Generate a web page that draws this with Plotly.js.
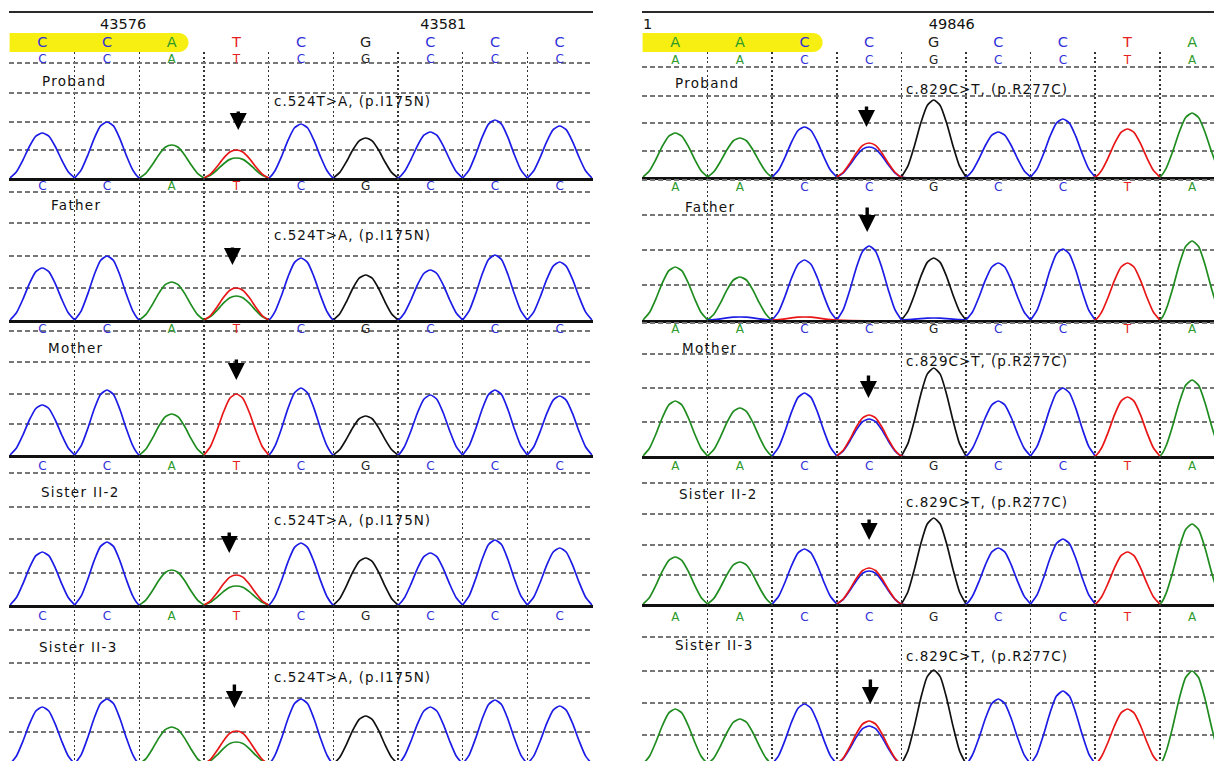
<!DOCTYPE html>
<html><head><meta charset="utf-8">
<script src="https://cdn.plot.ly/plotly-3.0.1.min.js"></script>
<style>html,body{margin:0;padding:0;background:#fff;overflow:hidden}#chart{width:1214px;height:761px}</style>
</head><body><div id="chart"></div>
<script>
// ================= DATA =================
const SAMPLES = ['Proband', 'Father', 'Mother', 'Sister II-2', 'Sister II-3'];

// left panel: exon around c.524
const LEFT_BASES = ['C', 'C', 'A', 'T', 'C', 'G', 'C', 'C', 'C'];
const LEFT_POSITIONS = ['43576', '43581'];
const LEFT_POSITION_AT = [1.25, 6.2];
const LEFT_MUTATION = 'c.524T>A, (p.I175N)';
const LEFT_VARIANT = 3;           // index of the variant base
const LEFT_SECOND_BASE = 'A';     // second signal under the variant
// peak heights per base (signal units), one list per sample
const LEFT_PROBAND = [45, 56, 33, 28, 54, 40, 46, 58, 52];
const LEFT_FATHER  = [52, 64, 38, 32, 62, 45, 50, 65, 58];
const LEFT_MOTHER  = [50, 65, 41, 61, 67, 39, 60, 65, 59];
const LEFT_SIS2    = [53, 63, 35, 30, 62, 47, 52, 65, 57];
const LEFT_SIS3    = [57, 65, 37, 33, 65, 48, 57, 64, 58];
const LEFT_SECOND  = [20, 24, 0, 19, 22];   // A signal at the variant
const LEFT_SHOW_MUT = [true, true, false, true, true];

// right panel: exon around c.829
const RIGHT_BASES = ['A', 'A', 'C', 'C', 'G', 'C', 'C', 'T', 'A'];
const RIGHT_POSITIONS = ['1', '49846'];
const RIGHT_POSITION_AT = [-0.43, 4.28];
const RIGHT_MUTATION = 'c.829C>T, (p.R277C)';
const RIGHT_VARIANT = 3;
const RIGHT_SECOND_BASE = 'T';
const RIGHT_PROBAND = [44, 39, 50, 30, 77, 45, 58, 48, 64];
const RIGHT_FATHER  = [53, 43, 60, 74, 62, 57, 71, 57, 79];
const RIGHT_MOTHER  = [55, 48, 63, 37, 88, 55, 68, 59, 76];
const RIGHT_SIS2    = [47, 42, 55, 33, 86, 56, 65, 52, 80];
const RIGHT_SIS3    = [55, 45, 60, 38, 94, 65, 73, 55, 93];
const RIGHT_SECOND  = [34, 0, 41, 36, 43];  // T signal at the variant
const RIGHT_SHOW_MUT = [true, false, true, true, true];
// small background bumps in the father's trace
const RIGHT_FATHER_MINOR_BASE = ['C', 'T', 'C'];
const RIGHT_FATHER_MINOR_AT = [1, 2, 4];
const RIGHT_FATHER_MINOR_H = [3, 3, 2];

// ================= STYLE / LAYOUT =================
const W = 1214, H = 761;
const TRACE_COLOR = {A: '#1e8c1e', C: '#1c1ce6', G: '#111111', T: '#e81616'};
const LETTER_COLOR = {A: '#2c9a2c', C: '#3030d8', G: '#222222', T: '#e52020'};
const FONT = 'DejaVu Sans, Verdana, sans-serif';
// relative outline of one peak (glyph shape), offsets in base widths
const PEAK_OFFSETS = [-0.5, -0.4, -0.3, -0.2, -0.1, 0, 0.1, 0.2, 0.3, 0.4, 0.5];
const PEAK_SHAPE   = [0, 0.14, 0.4, 0.7, 0.93, 1, 0.93, 0.7, 0.4, 0.14, 0];

const PANELS = [
  {
    bases: LEFT_BASES, rows: [LEFT_PROBAND, LEFT_FATHER, LEFT_MOTHER, LEFT_SIS2, LEFT_SIS3],
    second: LEFT_SECOND, secondBase: LEFT_SECOND_BASE, variant: LEFT_VARIANT,
    mutation: LEFT_MUTATION, showMut: LEFT_SHOW_MUT,
    positions: LEFT_POSITIONS, positionAt: LEFT_POSITION_AT,
    pxLeft: 10, pxPerBase: 582 / 9, pxRight: 592.65, highlightEnd: 2.26,
    rowPx: [[52, 178], [178, 320], [320, 455], [455, 605], [605, 764]],
    grid: [[115, 85, 56, 28], [128, 97, 64, 32], [124, 93, 61, 31], [132, 98, 66, 32], [134, 101, 66, 32]],
    letterY: [118, 133, 125, 138, 147],
    labelX: [-0.03, 0.11, 0.05, -0.05, -0.09], labelY: [97, 115, 107, 113, 117],
    mutX: 3.555, mutY: [77, 85, 0, 85, 87],
    arrows: [[3.03, 48, 19], [2.94, 55, 18], [3.0, 75, 21], [2.89, 52, 21], [2.97, 56, 24]]
  },
  {
    bases: RIGHT_BASES, rows: [RIGHT_PROBAND, RIGHT_FATHER, RIGHT_MOTHER, RIGHT_SIS2, RIGHT_SIS3],
    second: RIGHT_SECOND, secondBase: RIGHT_SECOND_BASE, variant: RIGHT_VARIANT,
    mutation: RIGHT_MUTATION, showMut: RIGHT_SHOW_MUT,
    positions: RIGHT_POSITIONS, positionAt: RIGHT_POSITION_AT,
    pxLeft: 643, pxPerBase: 64.6, pxRight: 1214, highlightEnd: 2.28,
    rowPx: [[52, 177], [177, 320], [320, 456], [456, 604], [604, 764]],
    grid: [[110, 81, 54, 26], [140, 105, 70, 35], [133, 102, 68, 34], [121, 90, 59, 29], [127, 93, 61, 29]],
    letterY: [116, 132, 126, 137, 146],
    labelX: [-0.03, 0.12, 0.08, 0.03, -0.03], labelY: [94, 113, 108, 110, 119],
    mutX: 3.545, mutY: [88, 0, 95, 102, 108],
    arrows: [[2.96, 50, 21], [2.97, 88, 25], [2.99, 58, 23], [3.0, 64, 21], [3.02, 60, 25]]
  }
];

const traces = [];
const layout = {
  width: W, height: H, margin: {l: 0, r: 0, t: 0, b: 0},
  paper_bgcolor: '#ffffff', plot_bgcolor: '#ffffff',
  showlegend: false, hovermode: false,
  annotations: [], shapes: []
};

function domY(top, bot) { return [1 - Math.min(bot, H) / H, 1 - top / H]; }

let axisN = 0;
PANELS.forEach((P, pi) => {
  const x0px = P.pxLeft - 0.01 * P.pxPerBase;
  const xr = [-0.51, -0.5 + (P.pxRight - P.pxLeft) / P.pxPerBase];
  const xdom = [x0px / W, P.pxRight / W];
  const gridX = [];
  for (let i = 0; i <= P.bases.length; i++) gridX.push(i - 0.5);

  // ---------- header (position numbers, highlighted reference bases) ----------
  axisN++;
  const hn = axisN, hx = 'x' + hn, hy = 'y' + hn;
  layout['xaxis' + hn] = {domain: xdom, range: xr, anchor: hy, side: 'top', showline: true,
    linecolor: '#2a2a2a', linewidth: 2, showgrid: false, zeroline: false, showticklabels: false,
    ticks: '', fixedrange: true};
  layout['yaxis' + hn] = {domain: domY(13, 52), range: [0, 39], anchor: hx, showgrid: false,
    zeroline: false, showticklabels: false, showline: false, fixedrange: true};
  const e = P.highlightEnd, rx = 9.5 / P.pxPerBase, ry = 9.5;
  layout.shapes.push({type: 'path', xref: hx, yref: hy, layer: 'below',
    path: `M ${xr[0]},0 L ${e - rx},0 C ${e - rx * 0.45},0 ${e},${ry * 0.45} ${e},${ry} ` +
          `C ${e},${ry * 1.55} ${e - rx * 0.45},${2 * ry} ${e - rx},${2 * ry} L ${xr[0]},${2 * ry} Z`,
    fillcolor: '#f8ef12', line: {width: 0}});
  traces.push({type: 'scatter', mode: 'text', xaxis: hx, yaxis: hy, cliponaxis: false,
    x: P.bases.map((b, i) => i), y: P.bases.map(() => 9), text: P.bases,
    textfont: {family: FONT, size: 14.5, color: P.bases.map(b => LETTER_COLOR[b])}, hoverinfo: 'skip'});
  traces.push({type: 'scatter', mode: 'text', xaxis: hx, yaxis: hy, cliponaxis: false,
    x: P.positionAt, y: P.positionAt.map(() => 27), text: P.positions,
    textfont: {family: FONT, size: 14.5, color: '#111'}, hoverinfo: 'skip'});

  // ---------- sample rows ----------
  P.rows.forEach((heights, ri) => {
    axisN++;
    const n = axisN, xa = 'x' + n, ya = 'y' + n;
    const [top, bot] = P.rowPx[ri];
    const yr = [bot - Math.min(bot, H), bot - top];
    layout['xaxis' + n] = {domain: xdom, range: xr, anchor: ya, showline: bot <= H,
      linecolor: '#111', linewidth: 2.6, showgrid: true, gridcolor: '#333333', gridwidth: 1.6,
      griddash: '2px,2.5px', tickvals: gridX, showticklabels: false, ticks: '', zeroline: false,
      fixedrange: true};
    layout['yaxis' + n] = {domain: domY(top, bot), range: yr, anchor: xa, showline: false,
      showgrid: true, gridcolor: '#777777', gridwidth: 1.2, griddash: '5px,3px',
      tickvals: P.grid[ri], showticklabels: false, ticks: '', zeroline: false, fixedrange: true};

    // collect peaks per channel
    const peaks = {A: [], C: [], G: [], T: []};
    heights.forEach((h, i) => peaks[P.bases[i]].push([i, h]));
    if (P.second[ri] > 0) peaks[P.secondBase].push([P.variant, P.second[ri]]);
    if (pi === 1 && ri === 1) {
      RIGHT_FATHER_MINOR_BASE.forEach((b, k) => peaks[b].push([RIGHT_FATHER_MINOR_AT[k], RIGHT_FATHER_MINOR_H[k]]));
    }
    ['A', 'G', 'C', 'T'].forEach(ch => {
      const list = peaks[ch].sort((a, b) => a[0] - b[0]);
      if (!list.length) return;
      const xs = [], ys = [];
      list.forEach(([c, h]) => {
        PEAK_OFFSETS.forEach((o, k) => { xs.push(c + o); ys.push(h * PEAK_SHAPE[k]); });
      });
      traces.push({type: 'scatter', mode: 'lines', xaxis: xa, yaxis: ya, x: xs, y: ys,
        line: {color: TRACE_COLOR[ch], width: 1.7, shape: 'spline', smoothing: 0.6}, hoverinfo: 'skip'});
    });

    // base call letters
    traces.push({type: 'scatter', mode: 'text', xaxis: xa, yaxis: ya, cliponaxis: false,
      x: P.bases.map((b, i) => i), y: P.bases.map(() => P.letterY[ri]), text: P.bases,
      textfont: {family: FONT, size: 12, color: P.bases.map(b => LETTER_COLOR[b])}, hoverinfo: 'skip'});

    // sample label
    layout.annotations.push({xref: xa, yref: ya, x: P.labelX[ri], y: P.labelY[ri], text: SAMPLES[ri],
      showarrow: false, xanchor: 'left', yanchor: 'middle', font: {family: FONT, size: 13.5, color: '#111'}});
    // mutation text
    if (P.showMut[ri]) {
      layout.annotations.push({xref: xa, yref: ya, x: P.mutX, y: P.mutY[ri], text: P.mutation,
        showarrow: false, xanchor: 'left', yanchor: 'middle', font: {family: FONT, size: 13.5, color: '#111'}});
    }
    // arrow
    const [ax, ay, len] = P.arrows[ri];
    layout.annotations.push({xref: xa, yref: ya, x: ax, y: ay, text: '', showarrow: true,
      ax: 0, ay: -(len + 1), arrowhead: 2, arrowsize: 1.0, arrowwidth: 3.4, arrowcolor: '#000', standoff: 0});
  });
});

Plotly.newPlot('chart', traces, layout, {displayModeBar: false, staticPlot: true}).then(() => {
  // the reference lettering is set wide; widen the label texts, keeping their left edge
  document.querySelectorAll('#chart text.annotation-text').forEach(t => {
    const s = t.textContent;
    if (!s) return;
    const left = t.getBBox().x;
    t.style.letterSpacing = s.indexOf('(p.') >= 0 ? '1px' : '1.3px';
    t.setAttribute('text-anchor', 'start');
    t.style.textAnchor = 'start';
    t.setAttribute('x', left);
    t.querySelectorAll('tspan').forEach(ts => { if (ts.hasAttribute('x')) ts.setAttribute('x', left); });
  });
});
</script>
</body></html>
